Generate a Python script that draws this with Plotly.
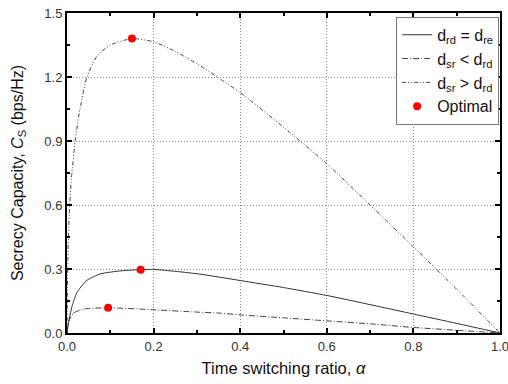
import plotly.graph_objects as go

# Data
alpha_sr_gt = [0, 0.002, 0.005, 0.01, 0.02, 0.03, 0.046, 0.07, 0.1, 0.15, 0.2, 0.25, 0.3, 0.35,
               0.4, 0.5, 0.6, 0.7, 0.8, 0.9, 1.0]
cs_sr_gt = [0, 0.35, 0.55, 0.72, 0.92, 1.05, 1.2, 1.30, 1.35, 1.38, 1.365, 1.32, 1.262, 1.196,
            1.127, 0.965, 0.793, 0.60, 0.404, 0.205, 0]

alpha_eq = [0, 0.005, 0.0115, 0.023, 0.046, 0.077, 0.123, 0.17, 0.2, 0.3, 0.4, 0.5, 0.6, 0.7,
            0.8, 0.9, 1.0]
cs_eq = [0, 0.065, 0.124, 0.19, 0.247, 0.277, 0.291, 0.297, 0.298, 0.278, 0.246, 0.213, 0.176,
         0.133, 0.089, 0.045, 0]

alpha_sr_lt = [0, 0.004, 0.015, 0.038, 0.095, 0.2, 0.3, 0.354, 0.4, 0.5, 0.6, 0.7, 0.8, 0.9, 1.0]
cs_sr_lt = [0, 0.054, 0.093, 0.112, 0.118, 0.109, 0.098, 0.093, 0.085, 0.071, 0.057, 0.043,
            0.026, 0.013, 0]

opt_alpha = [0.15, 0.17, 0.095]
opt_cs = [1.38, 0.297, 0.118]

x_ticks = [0, 0.2, 0.4, 0.6, 0.8, 1.0]
x_labels = ["0.0", "0.2", "0.4", "0.6", "0.8", "1.0"]
y_ticks = [0, 0.3, 0.6, 0.9, 1.2, 1.5]
y_labels = ["0.0", "0.3", "0.6", "0.9", "1.2", "1.5"]

FONT = "Liberation Sans, Arial, sans-serif"

fig = go.Figure()
fig.add_trace(go.Scatter(x=alpha_eq, y=cs_eq, mode="lines", name="d<sub>rd</sub> = d<sub>re</sub>",
                         line=dict(color="#333333", width=1, shape="spline", smoothing=0.6)))
fig.add_trace(go.Scatter(x=alpha_sr_lt, y=cs_sr_lt, mode="lines", name="d<sub>sr</sub> &lt; d<sub>rd</sub>",
                         line=dict(color="#444444", width=1, dash="6px,2px,1px,2px", shape="spline", smoothing=0.6)))
fig.add_trace(go.Scatter(x=alpha_sr_gt, y=cs_sr_gt, mode="lines", name="d<sub>sr</sub> &gt; d<sub>rd</sub>",
                         line=dict(color="#444444", width=1, dash="4px,2px,1px,2px,1px,2px", shape="spline", smoothing=0.6)))
fig.add_trace(go.Scatter(x=opt_alpha, y=opt_cs, mode="markers", name="Optimal",
                         marker=dict(color="#ff0000", size=8)))

axis_common = dict(
    showline=True, linecolor="black", linewidth=2, mirror="ticks",
    ticks="inside", ticklen=5, tickwidth=1.5, tickcolor="black",
    showgrid=True, gridcolor="#888888", griddash="1px,2px", gridwidth=1,
    zeroline=False, automargin=False, ticklabeloverflow="allow",
    tickfont=dict(family=FONT, size=13, color="#333333"),
    minor=dict(ticks="inside", ticklen=3, tickwidth=1.5, tickcolor="black", showgrid=False),
)

fig.update_xaxes(range=[0, 1], tickvals=x_ticks, ticktext=x_labels,
                 minor_dtick=0.1,
                 title=dict(text="Time switching ratio, <i>α</i>", standoff=10,
                            font=dict(family=FONT, size=16.5, color="#111111")),
                 **axis_common)
fig.update_yaxes(range=[0, 1.5], tickvals=y_ticks, ticktext=y_labels,
                 minor_dtick=0.15,
                 title=dict(text="Secrecy Capacity, <i>C</i><sub>S</sub> (bps/Hz)", standoff=17,
                            font=dict(family=FONT, size=16, color="#111111")),
                 **axis_common)

fig.update_layout(
    width=508, height=384,
    margin=dict(l=67, r=8, t=13, b=51),
    plot_bgcolor="white", paper_bgcolor="white",
    showlegend=True,
    legend=dict(x=0.998, y=0.988, xanchor="right", yanchor="top",
                bgcolor="white", bordercolor="#777777", borderwidth=1,
                font=dict(family=FONT, size=16, color="#111111"),
                tracegroupgap=0, entrywidth=80),
)

fig.write_html("out.html", config={"displayModeBar": False},
               post_script="document.body.style.margin='0px';")
